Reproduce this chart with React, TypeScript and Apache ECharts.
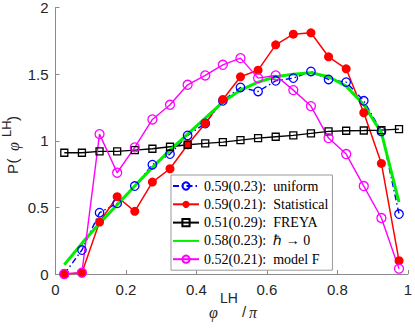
import React, { useEffect, useRef } from "react";
import * as echarts from "echarts";

const xBins = [0.025, 0.075, 0.125, 0.175, 0.225, 0.275, 0.325, 0.375, 0.425, 0.475, 0.525, 0.575, 0.625, 0.675, 0.725, 0.775, 0.825, 0.875, 0.925, 0.975];
const uniform = [0.0, 0.18, 0.46, 0.53, 0.66, 0.82, 0.9, 1.04, 1.13, 1.3, 1.4, 1.37, 1.45, 1.47, 1.52, 1.46, 1.44, 1.3, 1.07, 0.45];
const statistical = [0.0, 0.01, 0.39, 0.58, 0.47, 0.69, 0.79, 0.97, 1.13, 1.31, 1.48, 1.53, 1.72, 1.8, 1.81, 1.63, 1.54, 1.21, 0.83, 0.1];
const freya = [0.91, 0.91, 0.92, 0.92, 0.93, 0.94, 0.955, 0.97, 0.98, 0.99, 1.005, 1.02, 1.03, 1.04, 1.055, 1.07, 1.075, 1.077, 1.08, 1.087];
const hbar0 = [0.07, 0.23, 0.38, 0.52, 0.66, 0.8, 0.93, 1.05, 1.17, 1.29, 1.38, 1.44, 1.48, 1.5, 1.51, 1.48, 1.41, 1.27, 1.06, 0.54];
const modelF = [0.0, 0.01, 1.05, 0.76, 0.95, 1.16, 1.27, 1.42, 1.49, 1.57, 1.62, 1.47, 1.49, 1.38, 1.26, 1.02, 0.9, 0.66, 0.42, 0.04];

const seriesNames = [
  "0.59(0.23):\u2002uniform",
  "0.59(0.21):\u2002Statistical",
  "0.51(0.29):\u2002FREYA",
  "0.58(0.23):\u2002\u210F \u2192 0",
  "0.52(0.21):\u2002model F",
];
const xTicks = [0, 0.2, 0.4, 0.6, 0.8, 1];
const yTicks = [0, 0.5, 1, 1.5, 2];

const pairs = (ys: number[]) => xBins.map((x, i) => [x, ys[i]]);

export default function App() {
  const ref = useRef<HTMLDivElement>(null);
  useEffect(() => {
    if (!ref.current) return;
    const chart = echarts.init(ref.current, undefined, { renderer: "svg" });
    const axisColor = "#8a8a8a";
    const labelColor = "#262626";
    const sans = "Liberation Sans, Arial, sans-serif";
    const serif = "Liberation Serif, Times New Roman, serif";
    const hollow = (c: string) => ({ color: "rgba(255,255,255,0)", borderColor: c, borderWidth: 1.3 });
    chart.setOption({
      animation: false,
      backgroundColor: "#fff",
      grid: { left: 55.5, top: 6, right: 1.5, bottom: 54, containLabel: false },
      xAxis: {
        type: "value",
        min: 0,
        max: 1,
        interval: 0.2,
        axisLine: { show: true, lineStyle: { color: axisColor, width: 1 } },
        axisTick: { show: true, inside: true, length: 4, lineStyle: { color: axisColor } },
        splitLine: { show: false },
        axisLabel: {
          color: labelColor,
          fontFamily: sans,
          fontSize: 15,
          margin: 8,
          formatter: (v: number) => (xTicks.includes(Number(v.toFixed(1))) ? String(Number(v.toFixed(1))) : ""),
        },
      },
      yAxis: {
        type: "value",
        min: 0,
        max: 2,
        interval: 0.5,
        axisLine: { show: true, lineStyle: { color: axisColor, width: 1 } },
        axisTick: { show: true, inside: true, length: 4, lineStyle: { color: axisColor } },
        splitLine: { show: false },
        axisLabel: {
          color: labelColor,
          fontFamily: sans,
          fontSize: 15,
          margin: 7,
          formatter: (v: number) => (yTicks.includes(v) ? String(v) : ""),
        },
      },
      legend: {
        orient: "vertical",
        left: 171,
        top: 175,
        itemWidth: 26,
        itemHeight: 9,
        itemGap: 4.3,
        padding: [4, 4, 4, 1],
        backgroundColor: "#fff",
        borderColor: "#9a9a9a",
        borderWidth: 1,
        borderRadius: 0,
        textStyle: { fontFamily: serif, fontSize: 14, color: "#000" },
        data: seriesNames,
      },
      series: [
        {
          name: seriesNames[0],
          type: "line",
          data: pairs(uniform),
          symbol: "circle",
          symbolSize: 8.5,
          color: "#0000ff",
          lineStyle: { color: "#0000ff", width: 1.4, type: [6, 3, 1.5, 3] },
          itemStyle: hollow("#0000ff"),
        },
        {
          name: seriesNames[1],
          type: "line",
          data: pairs(statistical),
          symbol: "circle",
          symbolSize: 9,
          color: "#ff0000",
          lineStyle: { color: "#ff0000", width: 1.5 },
          itemStyle: { color: "#ff0000" },
        },
        {
          name: seriesNames[2],
          type: "line",
          data: pairs(freya),
          symbol: "rect",
          symbolSize: 7,
          color: "#000000",
          lineStyle: { color: "#000000", width: 1.4 },
          itemStyle: hollow("#000000"),
        },
        {
          name: seriesNames[3],
          type: "line",
          data: pairs(hbar0),
          symbol: "none",
          color: "#00ee00",
          lineStyle: { color: "#00ee00", width: 3 },
          itemStyle: { opacity: 0 },
        },
        {
          name: seriesNames[4],
          type: "line",
          data: pairs(modelF),
          symbol: "circle",
          symbolSize: 9,
          color: "#ff00ff",
          lineStyle: { color: "#ff00ff", width: 1.4 },
          itemStyle: hollow("#ff00ff"),
        },
      ],
      graphic: [
        {
          type: "group",
          x: 12,
          y: 143,
          rotation: Math.PI / 2,
          children: [
            { type: "text", x: -31, y: 0, style: { text: "P", font: `15px ${sans}`, fill: labelColor, align: "left", verticalAlign: "middle" } },
            { type: "text", x: -20.5, y: 0, style: { text: "(", font: `15px ${sans}`, fill: labelColor, align: "left", verticalAlign: "middle" } },
            { type: "text", x: -8, y: 1, style: { text: "\u03C6", font: `italic 16px ${serif}`, fill: labelColor, align: "left", verticalAlign: "middle" } },
            { type: "text", x: 6, y: -5.5, style: { text: "LH", font: `13px ${sans}`, fill: labelColor, align: "left", verticalAlign: "middle" } },
            { type: "text", x: 22, y: 0, style: { text: ")", font: `15px ${sans}`, fill: labelColor, align: "left", verticalAlign: "middle" } },
          ],
        },
        { type: "text", x: 209, y: 312, style: { text: "\u03C6", font: `italic 16px ${serif}`, fill: labelColor, align: "left", verticalAlign: "middle" } },
        { type: "text", x: 220, y: 298, style: { text: "LH", font: `14px ${sans}`, fill: labelColor, align: "left", verticalAlign: "middle" } },
        { type: "text", x: 242, y: 311, style: { text: "/", font: `15px ${sans}`, fill: labelColor, align: "left", verticalAlign: "middle" } },
        { type: "text", x: 249, y: 312, style: { text: "\u03C0", font: `italic 16px ${serif}`, fill: labelColor, align: "left", verticalAlign: "middle" } },
      ],
    });
    return () => chart.dispose();
  }, []);
  return <div ref={ref} style={{ width: 415, height: 328, position: "absolute", left: 0, top: 0 }} />;
}
